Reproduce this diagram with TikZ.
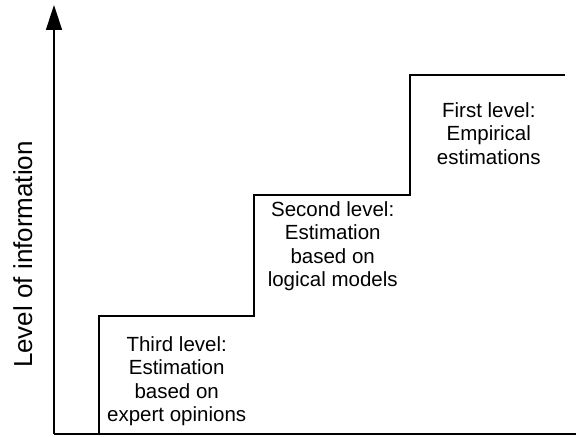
\documentclass[tikz,border=0pt]{standalone}
\usepackage{fontspec}
\setmainfont{Liberation Sans}
\usetikzlibrary{arrows.meta}
\begin{document}
\begin{tikzpicture}[x=1bp,y=-1bp,
  line/.style={line width=1.5bp, line join=miter},
  lvl/.style={align=center, inner sep=0pt, anchor=north, font=\fontsize{20.5bp}{23.5bp}\selectfont},
  axlabel/.style={rotate=90, anchor=base, inner sep=0pt, font=\fontsize{26bp}{30bp}\selectfont}]
\useasboundingbox (0,0) rectangle (576,437);
\coordinate (o) at (54,434);
\coordinate (top) at (54,5);
\coordinate (xend) at (576,434);
\draw[line, -{Triangle[length=25bp,width=16bp]}] (o) -- (top);
\draw[line] (o) -- (xend);
\draw[line] (99,434) -- (99,316) -- (254,316) -- (254,195) -- (410,195) -- (410,75) -- (565,75);
\node[axlabel] (ylab) at (32,254.5) {Level of information};
\node[lvl] (third) at (176.7,336) {Third level:\\Estimation\\based on\\expert opinions};
\node[lvl] (second) at (332.7,201.4) {Second level:\\Estimation\\based on\\logical models};
\node[lvl] (first) at (488.8,102.4) {First level:\\Empirical\\estimations};
\end{tikzpicture}
\end{document}
